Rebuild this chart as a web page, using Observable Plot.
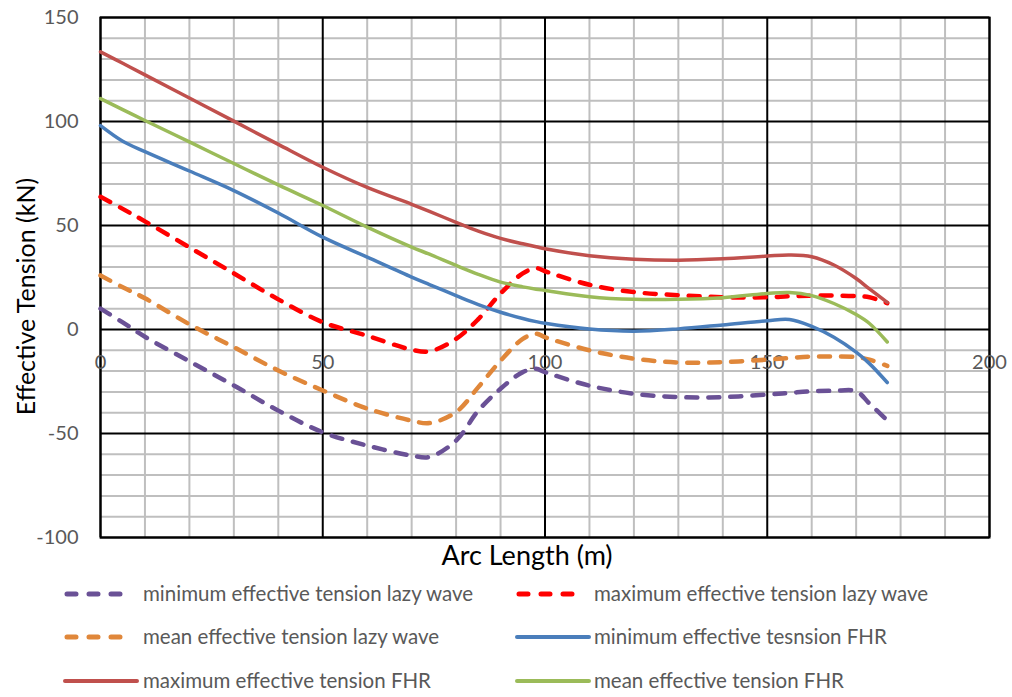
<!DOCTYPE html>
<html><head><meta charset="utf-8">
<script src="https://cdn.jsdelivr.net/npm/d3@7"></script>
<script src="https://cdn.jsdelivr.net/npm/@observablehq/plot@0.6"></script>
<style>
body{margin:0;background:#fff;font-family:Lato,sans-serif}
#legend text{font-family:Lato,sans-serif}
#legend{margin-top:-14px}
</style>
</head><body><div id="chart"></div><div id="legend"></div><script>
const arc      = [0, 5, 10, 20, 30, 40, 50, 60, 70, 74, 80, 85, 90, 95, 98, 100, 110, 120, 130, 140, 150, 155, 160, 165, 170, 173, 177];
const minLazy  = [10, 3.4, -3.5, -15.3, -26.9, -39, -49.4, -55.8, -60.6, -61.3, -53.4, -39, -28.5, -20.5, -18.9, -20.5, -27, -30.9, -32.5, -32.5, -31.3, -30.5, -29.7, -29.5, -29.7, -35.6, -43.7];
const maxLazy  = [63.8, 58, 52, 39.5, 27, 14.5, 3.5, -3, -9.7, -10.5, -4.5, 5, 17.3, 27, 29.5, 28, 21.5, 18, 16.5, 15.5, 15.5, 16, 16.3, 16.3, 16, 15.5, 12.7];
const meanLazy = [26, 20.3, 15, 2.5, -8.5, -19.7, -29.3, -38, -43.8, -45, -39.7, -27.7, -15, -4.5, -2, -3.7, -10, -14, -15.9, -15.7, -14.5, -13.7, -13, -13, -13.3, -14.5, -17.5];
const minFHR   = [98, 90.5, 85.5, 76.2, 66.8, 56, 44.4, 34.8, 25.2, 21.6, 16.3, 12, 8.3, 5.3, 3.8, 3, 0.2, -0.8, 0.3, 2.2, 4.2, 4.8, 1.5, -3.7, -10.9, -16.4, -25.5];
const maxFHR   = [133.5, 128, 122.4, 111.3, 100.2, 89, 78, 68.3, 60.2, 56.8, 51.5, 47.3, 43.8, 41.2, 39.8, 38.8, 35.5, 33.8, 33.3, 34, 35.3, 35.8, 35, 31, 24.5, 19.5, 13];
const meanFHR  = [111, 105.7, 100.5, 90.2, 79.8, 69.5, 59.6, 49.2, 39.6, 36.2, 30.8, 26.5, 22.8, 20.5, 19.4, 18.8, 15.8, 14.5, 14.5, 15.3, 17.3, 17.8, 16.3, 12.5, 7.2, 2.9, -6];
const xTicks = [0, 50, 100, 150, 200];
const yTicks = [-100, -50, 0, 50, 100, 150];
const seriesNames = [
  "minimum effective tension lazy wave",
  "maximum effective tension lazy wave",
  "mean effective tension lazy wave",
  "minimum effective tesnsion FHR",
  "maximum effective tension FHR",
  "mean effective tension FHR"
];
const seriesValues = [minLazy, maxLazy, meanLazy, minFHR, maxFHR, meanFHR];
const seriesColors = ["#6A5196", "#FF0000", "#E0873A", "#4A7EBB", "#C0504D", "#9BBB59"];
const seriesDashed = [true, true, true, false, false, false];

const series = seriesNames.map((name, k) => ({
  name, color: seriesColors[k], dashed: seriesDashed[k],
  rows: arc.map((a, i) => ({x: a, y: seriesValues[k][i]}))
}));

const minorX = d3.range(0, 201, 10).filter(v => v % 50 !== 0);
const minorY = d3.range(-100, 151, 10).filter(v => v % 50 !== 0);

const chart = Plot.plot({
  width: 1012,
  height: 585,
  marginLeft: 100,
  marginRight: 23,
  marginTop: 17,
  marginBottom: 48,
  style: {fontFamily: "Lato, sans-serif", fontSize: "20px", background: "transparent"},
  x: {domain: [0, 200], axis: null},
  y: {domain: [-100, 150], axis: null},
  marks: [
    Plot.ruleX(minorX, {stroke: "#BFBFBF", strokeWidth: 2}),
    Plot.ruleY(minorY, {stroke: "#BFBFBF", strokeWidth: 2}),
    Plot.ruleX(xTicks, {stroke: "#000", strokeWidth: 2}),
    Plot.ruleY(yTicks, {stroke: "#000", strokeWidth: 2}),
    Plot.frame({stroke: "#000", strokeWidth: 2}),
    Plot.axisY(yTicks, {tickSize: 0, tickPadding: 22, fontSize: 20, fill: "#595959", label: null, tickFormat: d => String(d)}),
    Plot.text(xTicks, {x: d => d, y: () => 0, dy: 33, text: d => String(d), fontSize: 20, fill: "#595959", textAnchor: "middle"}),
    ...series.map(s => Plot.line(s.rows, {
      x: "x", y: "y", curve: "catmull-rom",
      stroke: s.color, strokeWidth: s.dashed ? 4.5 : 3.5,
      strokeDasharray: s.dashed ? "11,11" : null,
      strokeLinecap: "round", strokeLinejoin: "round"
    })),
    Plot.text(["Arc Length (m)"], {frameAnchor: "bottom", dx: -18, dy: 27, fontSize: 27, fill: "#000", textAnchor: "middle"}),
    Plot.text(["Effective Tension (kN)"], {frameAnchor: "left", dx: -74, dy: 19, rotate: -90, fontSize: 25, fill: "#000", textAnchor: "middle"})
  ]
});
document.getElementById("chart").appendChild(chart);

// Legend below the SVG
const legendPos = [
  {sx: 65, tx: 143, y: 23}, {sx: 517, tx: 594, y: 23},
  {sx: 65, tx: 143, y: 66}, {sx: 517, tx: 594, y: 66},
  {sx: 65, tx: 143, y: 110}, {sx: 517, tx: 594, y: 110}
];
const lsvg = d3.select("#legend").append("svg").attr("width", 1012).attr("height", 126).style("display", "block");
series.forEach((s, k) => {
  const p = legendPos[k];
  lsvg.append("line")
    .attr("x1", p.sx + (s.dashed ? 2 : 0)).attr("x2", s.dashed ? p.sx + 63 : p.sx + 72)
    .attr("y1", p.y).attr("y2", p.y)
    .attr("stroke", s.color).attr("stroke-width", s.dashed ? 5 : 4)
    .attr("stroke-dasharray", s.dashed ? "9,13" : null)
    .attr("stroke-linecap", "round");
  lsvg.append("text").attr("x", p.tx).attr("y", p.y).attr("dy", "0.35em")
    .attr("font-size", 20.5).attr("fill", "#595959").text(s.name);
});
</script></body></html>
